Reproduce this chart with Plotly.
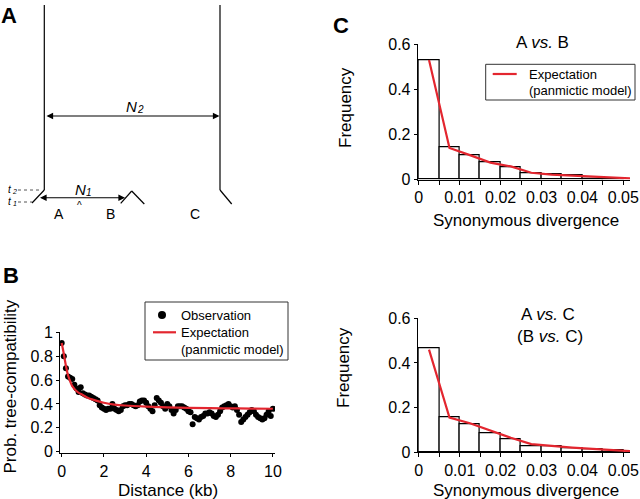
import plotly.graph_objects as go

W, H = 640, 499
FONT = "Liberation Sans, Arial, sans-serif"
RED = "#e3262f"

# ---------------- Panel B data ----------------
dist_kb = [0.0, 0.1, 0.2, 0.3, 0.4, 0.5, 0.6, 0.7, 0.8, 0.9,
           1.0, 1.1, 1.2, 1.3, 1.4, 1.5, 1.6, 1.7, 1.8, 1.9,
           2.0, 2.1, 2.2, 2.3, 2.4, 2.5, 2.6, 2.7, 2.8, 2.9,
           3.0, 3.1, 3.2, 3.3, 3.4, 3.5, 3.6, 3.7, 3.8, 3.9,
           4.0, 4.1, 4.2, 4.3, 4.4, 4.5, 4.6, 4.7, 4.8, 4.9,
           5.0, 5.1, 5.2, 5.3, 5.4, 5.5, 5.6, 5.7, 5.8, 5.9,
           6.0, 6.1, 6.2, 6.3, 6.4, 6.5, 6.6, 6.7, 6.8, 6.9,
           7.0, 7.1, 7.2, 7.3, 7.4, 7.5, 7.6, 7.7, 7.8, 7.9,
           8.0, 8.1, 8.2, 8.3, 8.4, 8.5, 8.6, 8.7, 8.8, 8.9,
           9.0, 9.1, 9.2, 9.3, 9.4, 9.5, 9.6, 9.7, 9.8, 9.9, 10.0]
prob_obs = [0.91, 0.80, 0.70, 0.63, 0.62, 0.61, 0.56, 0.53, 0.50, 0.54,
            0.49, 0.48, 0.47, 0.47, 0.46, 0.45, 0.44, 0.43, 0.39, 0.37,
            0.36, 0.35, 0.36, 0.36, 0.40, 0.36, 0.35, 0.34, 0.35, 0.38,
            0.39, 0.39, 0.40, 0.40, 0.39, 0.38, 0.39, 0.42, 0.43, 0.43,
            0.41, 0.38, 0.36, 0.34, 0.39, 0.45, 0.43, 0.41, 0.38, 0.36,
            0.40, 0.38, 0.35, 0.32, 0.35, 0.38, 0.38, 0.38, 0.37, 0.36,
            0.34, 0.33, 0.23, 0.29, 0.28, 0.27, 0.29, 0.30, 0.32, 0.32,
            0.33, 0.32, 0.30, 0.29, 0.31, 0.34, 0.37, 0.38, 0.39, 0.40,
            0.38, 0.37, 0.38, 0.35, 0.31, 0.25, 0.27, 0.29, 0.31, 0.33,
            0.35, 0.34, 0.31, 0.29, 0.28, 0.27, 0.28, 0.31, 0.34, 0.30, 0.36]
exp_dist = [0, 0.1, 0.2, 0.3, 0.4, 0.5, 0.75, 1, 1.25, 1.5, 2, 2.5, 3, 4, 5, 6, 7, 8, 9, 10]
exp_prob = [0.91, 0.82, 0.72, 0.64, 0.59, 0.55, 0.50, 0.475, 0.45, 0.435, 0.41, 0.395,
            0.387, 0.378, 0.372, 0.368, 0.365, 0.363, 0.361, 0.36]
b_xticks = [0, 2, 4, 6, 8, 10]
b_yticks = [0, 0.2, 0.4, 0.6, 0.8, 1]

# ---------------- Panel C data ----------------
bin_centers = [0.0025, 0.0075, 0.0125, 0.0175, 0.0225, 0.0275, 0.0325, 0.0375, 0.0425, 0.0475]
freq_ab = [0.529, 0.142, 0.107, 0.077, 0.055, 0.029, 0.021, 0.017, 0.010, 0.006]
freq_ac = [0.466, 0.157, 0.127, 0.086, 0.059, 0.029, 0.025, 0.016, 0.015, 0.010]
exp_div = [0.0025, 0.0075, 0.0125, 0.0175, 0.0225, 0.0275, 0.0325, 0.0375, 0.0425, 0.0475, 0.0525]
exp_ab = [0.53, 0.14, 0.108, 0.075, 0.058, 0.030, 0.022, 0.017, 0.012, 0.007, 0.004]
exp_ac = [0.46, 0.155, 0.13, 0.097, 0.065, 0.037, 0.028, 0.021, 0.015, 0.009, 0.004]
c_xtickvals = [0, 0.01, 0.02, 0.03, 0.04, 0.05]
c_xticktext = ["0", "0.01", "0.02", "0.03", "0.04", "0.05"]
c_yticks = [0, 0.2, 0.4, 0.6]

LEG_OBS = "Observation"
LEG_EXP = ["Expectation", "(panmictic model)"]


def px(x):
    return x / W


def py(y):
    return 1 - y / H


fig = go.Figure()

# Panel B
fig.add_trace(go.Scatter(x=dist_kb, y=prob_obs, mode="markers", name=LEG_OBS,
                         marker=dict(color="black", size=6), xaxis="x", yaxis="y"))
fig.add_trace(go.Scatter(x=exp_dist, y=exp_prob, mode="lines", name=LEG_EXP[0],
                         line=dict(color=RED, width=2.2, shape="spline"), xaxis="x", yaxis="y"))

# Panel C top
fig.add_trace(go.Bar(x=bin_centers, y=freq_ab, width=0.005,
                     marker=dict(color="white", line=dict(color="black", width=1.2)),
                     xaxis="x2", yaxis="y2"))
fig.add_trace(go.Scatter(x=exp_div, y=exp_ab, mode="lines", name=LEG_EXP[0],
                         line=dict(color=RED, width=2.2), xaxis="x2", yaxis="y2"))

# Panel C bottom
fig.add_trace(go.Bar(x=bin_centers, y=freq_ac, width=0.005,
                     marker=dict(color="white", line=dict(color="black", width=1.2)),
                     xaxis="x3", yaxis="y3"))
fig.add_trace(go.Scatter(x=exp_div, y=exp_ac, mode="lines",
                         line=dict(color=RED, width=2.2), xaxis="x3", yaxis="y3"))

axis_common = dict(showline=True, linecolor="black", linewidth=1, showgrid=False,
                   zeroline=False, ticks="outside", ticklen=3, tickcolor="black",
                   automargin=False,
                   tickfont=dict(size=16, color="black", family=FONT))
c_minor = dict(dtick=0.005, tick0=0, ticks="outside", ticklen=4, tickcolor="black",
               showgrid=False)

fig.update_layout(
    width=W, height=H, margin=dict(l=0, r=0, t=0, b=0, pad=0, autoexpand=False),
    paper_bgcolor="white", plot_bgcolor="white",
    font=dict(family=FONT, color="black"),
    bargap=0, showlegend=False,
    xaxis=dict(domain=[px(60), px(275)], range=[-0.08, 10.1], tickvals=b_xticks,
               anchor="y", **axis_common),
    yaxis=dict(domain=[py(453.3), py(332.3)], range=[-0.013, 1.0], tickvals=b_yticks,
               anchor="x", **axis_common),
    xaxis2=dict(domain=[px(417.7), px(630)], range=[-0.00027, 0.05164], tickvals=c_xtickvals,
                ticktext=c_xticktext, anchor="y2", minor=c_minor, **axis_common),
    yaxis2=dict(domain=[py(179.5), py(44.3)], range=[0, 0.6], tickvals=c_yticks,
                anchor="x2", **axis_common),
    xaxis3=dict(domain=[px(417.7), px(630)], range=[-0.00027, 0.05164], tickvals=c_xtickvals,
                ticktext=c_xticktext, anchor="y3", minor=c_minor, **axis_common),
    yaxis3=dict(domain=[py(452.3), py(318.3)], range=[0, 0.6], tickvals=c_yticks,
                anchor="x3", **axis_common),
)


def text(t, x, y, size=17, angle=0, bold=False, xanchor="center"):
    if bold:
        t = "<b>" + t + "</b>"
    fig.add_annotation(text=t, x=px(x), y=py(y), xref="paper", yref="paper",
                       showarrow=False, textangle=angle, xanchor=xanchor, yanchor="middle",
                       borderpad=0,
                       font=dict(size=size, family=FONT, color="black"))


def seg(x0, y0, x1, y1, color="black", width=1.2, dash=None):
    fig.add_shape(type="line", xref="paper", yref="paper",
                  x0=px(x0), y0=py(y0), x1=px(x1), y1=py(y1),
                  line=dict(color=color, width=width, dash=dash))


def rect(x0, y0, x1, y1):
    fig.add_shape(type="rect", xref="paper", yref="paper",
                  x0=px(x0), y0=py(y0), x1=px(x1), y1=py(y1),
                  line=dict(color="#333", width=1), fillcolor="white", layer="above")


# Axis titles
text("Prob. tree-compatibility", 10, 386.5, angle=-90)
text("Distance (kb)", 168, 490)
text("Frequency", 345, 108, angle=-90)
text("Synonymous divergence", 525.5, 220)
text("Frequency", 343, 368, angle=-90)
text("Synonymous divergence", 525.5, 490)

# Panel C titles
text("A <i>vs.</i> B", 542, 43)
text("A <i>vs.</i> C", 548, 314)
text("(B <i>vs.</i> C)", 550, 336)

# Panel letters
text("A", 9, 15, size=22, bold=True)
text("B", 11, 275, size=22, bold=True)
text("C", 341, 25, size=22, bold=True)

# Legend of panel B
rect(145, 302, 288, 360)
fig.add_shape(type="circle", xref="paper", yref="paper",
              x0=px(158), y0=py(311), x1=px(166), y1=py(319),
              line=dict(color="black", width=0), fillcolor="black", layer="above")
text(LEG_OBS, 180, 315, size=13, xanchor="left")
seg(153, 332.3, 176, 332.3, color=RED, width=2.2)
text(LEG_EXP[0], 180, 332.3, size=13, xanchor="left")
text(LEG_EXP[1], 180, 349, size=13, xanchor="left")

# Legend of panel C (top)
rect(485.7, 64.3, 635, 100)
seg(492.7, 74, 516.7, 74, color=RED, width=2.2)
text(LEG_EXP[0], 528, 74, size=13, xanchor="left")
text(LEG_EXP[1], 528, 90.7, size=13, xanchor="left")


# ---------------- Panel A diagram ----------------
def darrow(x0, x1, y):
    fig.add_annotation(x=px(x1), y=py(y), ax=x0 - x1, ay=0, xref="paper", yref="paper",
                       axref="pixel", ayref="pixel", text="", showarrow=True,
                       arrowhead=2, arrowside="end+start", arrowsize=1.2, arrowwidth=1.1,
                       arrowcolor="black", standoff=0, startstandoff=0)


seg(44.3, 5, 44.3, 190)
seg(220, 5, 220, 190)
darrow(45, 219.5, 116)
seg(44.3, 190, 32, 203)
darrow(38.5, 125, 197.7)
seg(120.7, 203.3, 131.7, 191)
seg(131.7, 191, 144.3, 204)
seg(220, 190, 231.7, 204)
seg(18, 190, 42, 190, color="#555", width=1, dash="dot")
seg(18, 202, 32, 202, color="#555", width=1, dash="dot")

# italic population-size and time labels (letter + smaller index)
text("<i>N</i>", 131.5, 106, size=15)
text("<i>2</i>", 140.5, 109, size=10)
text("<i>N</i>", 80.5, 190, size=15)
text("<i>1</i>", 89, 192.5, size=10)
text("<i>t</i>", 9.5, 190, size=10)
text("<i>2</i>", 14.5, 192, size=7)
text("<i>t</i>", 9.5, 202, size=10)
text("<i>1</i>", 14.5, 204, size=7)
text("^", 79, 205, size=10)
text("A", 59, 214, size=14)
text("B", 110, 214, size=14)
text("C", 195, 214, size=14)

fig.write_html("out.html", config={"responsive": False, "displayModeBar": False},
               post_script="document.body.style.margin='0';document.body.style.overflow='hidden';")
